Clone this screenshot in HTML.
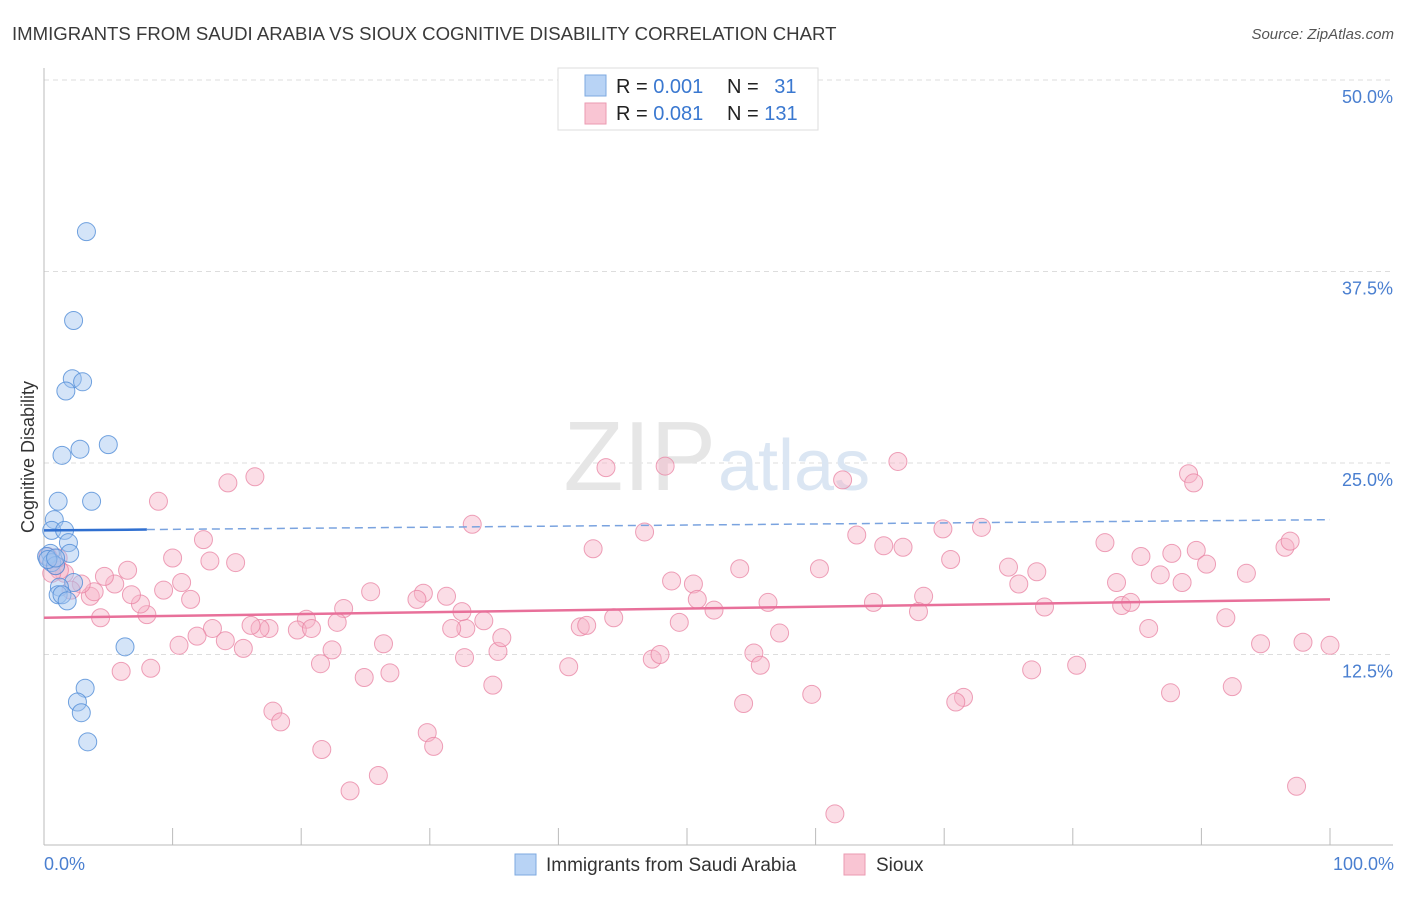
<!DOCTYPE html>
<html><head><meta charset="utf-8"><style>
body{margin:0;background:#fff;font-family:"Liberation Sans",sans-serif;}
svg text{font-family:"Liberation Sans",sans-serif;}
</style></head><body>
<svg id="chart" width="1406" height="892">
<text x="12" y="40" font-size="18.6" fill="#3a3a3a">IMMIGRANTS FROM SAUDI ARABIA VS SIOUX COGNITIVE DISABILITY CORRELATION CHART</text>
<text x="1394" y="39" font-size="15" fill="#555" text-anchor="end" font-style="italic">Source: ZipAtlas.com</text>
<g id="grid"></g>
<text x="716" y="490" font-size="98" fill="#e6e6e6" text-anchor="end" font-family="Liberation Serif">ZIP</text>
<text x="718" y="490" font-size="72" fill="#dbe6f3">atlas</text>
<g id="axes"></g>
<g id="points"></g>
<g id="trends"></g>
<text transform="translate(34,457) rotate(-90)" font-size="18" fill="#333" text-anchor="middle">Cognitive Disability</text>
<text x="44" y="870" font-size="18" fill="#4a7fd0">0.0%</text>
<text x="1394" y="870" font-size="18" fill="#4a7fd0" text-anchor="end">100.0%</text>
<g>
<rect x="558" y="68" width="260" height="62" fill="#fff" stroke="#ddd"/>
<rect x="585" y="75" width="21" height="21" fill="#b8d3f5" stroke="#7ea9e0"/>
<rect x="585" y="103" width="21" height="21" fill="#f9c5d3" stroke="#eb9ab2"/>
<text x="616" y="93" font-size="20" fill="#222">R = <tspan fill="#3a78d0">0.001</tspan></text>
<text x="727" y="93" font-size="20" fill="#222">N = <tspan fill="#3a78d0" dx="10">31</tspan></text>
<text x="616" y="120" font-size="20" fill="#222">R = <tspan fill="#3a78d0">0.081</tspan></text>
<text x="727" y="120" font-size="20" fill="#222">N = <tspan fill="#3a78d0">131</tspan></text>
</g>
<g>
<rect x="515" y="854" width="21" height="21" fill="#b8d3f5" stroke="#7ea9e0"/>
<text x="546" y="871" font-size="19" fill="#333">Immigrants from Saudi Arabia</text>
<rect x="844" y="854" width="21" height="21" fill="#f9c5d3" stroke="#eb9ab2"/>
<text x="876" y="871" font-size="19" fill="#333">Sioux</text>
</g>
</svg>
<script>
const yTicks=[12.5,25,37.5,50];
const yTickLabels=["12.5%","25.0%","37.5%","50.0%"];
const xTicks=[10,20,30,40,50,60,70,80,90,100];
const saudiX=[3.3,2.3,2.2,3.0,1.7,5.0,2.8,1.4,3.7,1.1,0.8,0.6,1.6,1.9,0.5,2.0,0.2,0.6,0.9,2.3,1.2,1.1,1.4,1.8,6.3,3.2,2.6,2.9,3.4,0.3,0.9];
const saudiY=[40.1,34.3,30.5,30.3,29.7,26.2,25.9,25.5,22.5,22.5,21.3,20.6,20.6,19.8,19.1,19.1,18.9,18.5,18.3,17.2,16.9,16.4,16.4,16.0,13.0,10.3,9.4,8.7,6.8,18.7,18.8];
const siouxX=[8.9,14.3,16.4,43.7,48.3,66.4,62.1,89.0,89.4,33.3,46.7,69.9,72.9,12.4,10.0,12.9,14.9,42.7,63.2,65.3,66.8,70.5,82.5,85.3,87.7,89.6,96.5,96.9,90.4,93.5,86.8,88.5,83.4,75.0,77.2,75.8,54.1,60.3,48.8,50.5,50.8,52.1,56.3,57.2,64.5,68.4,68.0,77.8,83.8,84.5,85.9,91.9,94.6,97.9,100,92.4,87.6,80.3,76.8,71.5,70.9,59.7,54.4,61.5,97.4,55.2,55.7,47.3,47.9,49.4,44.3,41.7,42.2,40.8,35.3,35.6,34.2,32.8,32.5,31.3,29.5,29.0,32.7,34.9,31.7,25.4,23.3,22.8,20.4,19.7,20.8,17.5,16.8,16.1,15.5,14.1,13.1,11.9,10.5,22.4,21.5,26.4,26.9,24.9,8.3,6.0,17.8,18.4,29.8,30.3,21.6,26.0,23.8,8.0,7.5,6.8,4.4,3.6,3.9,5.5,4.7,6.5,9.3,10.7,11.4,2.9,2.1,1.6,1.2,0.6,0.9,1.1,0.3];
const siouxY=[22.5,23.7,24.1,24.7,24.8,25.1,23.9,24.3,23.7,21.0,20.5,20.7,20.8,20.0,18.8,18.6,18.5,19.4,20.3,19.6,19.5,18.7,19.8,18.9,19.1,19.3,19.5,19.9,18.4,17.8,17.7,17.2,17.2,18.2,17.9,17.1,18.1,18.1,17.3,17.1,16.1,15.4,15.9,13.9,15.9,16.3,15.3,15.6,15.7,15.9,14.2,14.9,13.2,13.3,13.1,10.4,10.0,11.8,11.5,9.7,9.4,9.9,9.3,2.1,3.9,12.6,11.8,12.2,12.5,14.6,14.9,14.3,14.4,11.7,12.7,13.6,14.7,14.2,15.3,16.3,16.5,16.1,12.3,10.5,14.2,16.6,15.5,14.6,14.8,14.1,14.2,14.2,14.2,14.4,12.9,13.4,14.2,13.7,13.1,12.8,11.9,13.2,11.3,11.0,11.6,11.4,8.8,8.1,7.4,6.5,6.3,4.6,3.6,15.1,15.8,16.4,14.9,16.3,16.6,17.1,17.6,18.0,16.7,17.2,16.1,17.1,16.7,17.8,18.0,17.8,18.3,18.8,18.9];
const saudiTrend=[20.6,21.3];
const siouxTrend=[14.9,16.1];
const NS="http://www.w3.org/2000/svg";
const X0=44,X1=1330,Y0=846,YS=191.5/12.5;
const xs=v=>X0+(X1-X0)*v/100, ys=v=>Y0-v*YS;
function mk(tag,attrs,parent){const e=document.createElementNS(NS,tag);for(const k in attrs)e.setAttribute(k,attrs[k]);parent.appendChild(e);return e;}
const grid=document.getElementById('grid'),axes=document.getElementById('axes'),pts=document.getElementById('points'),tr=document.getElementById('trends');
yTicks.forEach((t,i)=>{
 const l=mk('line',{x1:44,x2:1393,y1:ys(t),y2:ys(t),stroke:'#ddd','stroke-dasharray':'5,4'},grid);
 
 
 const tx=mk('text',{x:1393,y:ys(t)+23,'font-size':18,fill:'#4a7fd0','text-anchor':'end'},axes);
 tx.textContent=yTickLabels[i];
 
 
});
const ax=mk('line',{x1:44,x2:1393,y1:845,y2:845,stroke:'#bbb'},axes);


const ay=mk('line',{x1:44,x2:44,y1:68,y2:845,stroke:'#bbb'},axes);


xTicks.forEach(t=>{
 const l=mk('line',{x1:xs(t),x2:xs(t),y1:828,y2:845,stroke:'#bbb'},axes);
 
 
});
siouxX.forEach((x,i)=>{
 const c=mk('circle',{cx:xs(x),cy:ys(siouxY[i]),r:9,fill:'rgba(246,180,200,0.45)',stroke:'rgba(232,130,162,0.75)','stroke-width':1},pts);
 
 
});
saudiX.forEach((x,i)=>{
 const c=mk('circle',{cx:xs(x),cy:ys(saudiY[i]),r:9,fill:'rgba(160,196,240,0.45)',stroke:'rgba(80,140,215,0.8)','stroke-width':1},pts);
 
 
});
const sy=v=>saudiTrend[0]+(saudiTrend[1]-saudiTrend[0])*v/100;
const b1=mk('line',{x1:xs(0),x2:xs(8),y1:ys(sy(0)),y2:ys(sy(8)),stroke:'#2f6fd0','stroke-width':2.5},tr);


const b2=mk('line',{x1:xs(8),x2:xs(100),y1:ys(sy(8)),y2:ys(sy(100)),stroke:'#7aa3df','stroke-width':1.5,'stroke-dasharray':'8,5'},tr);


const p1=mk('line',{x1:xs(0),x2:xs(100),y1:ys(siouxTrend[0]),y2:ys(siouxTrend[1]),stroke:'#e8709a','stroke-width':2.5},tr);


</script>
</body></html>
